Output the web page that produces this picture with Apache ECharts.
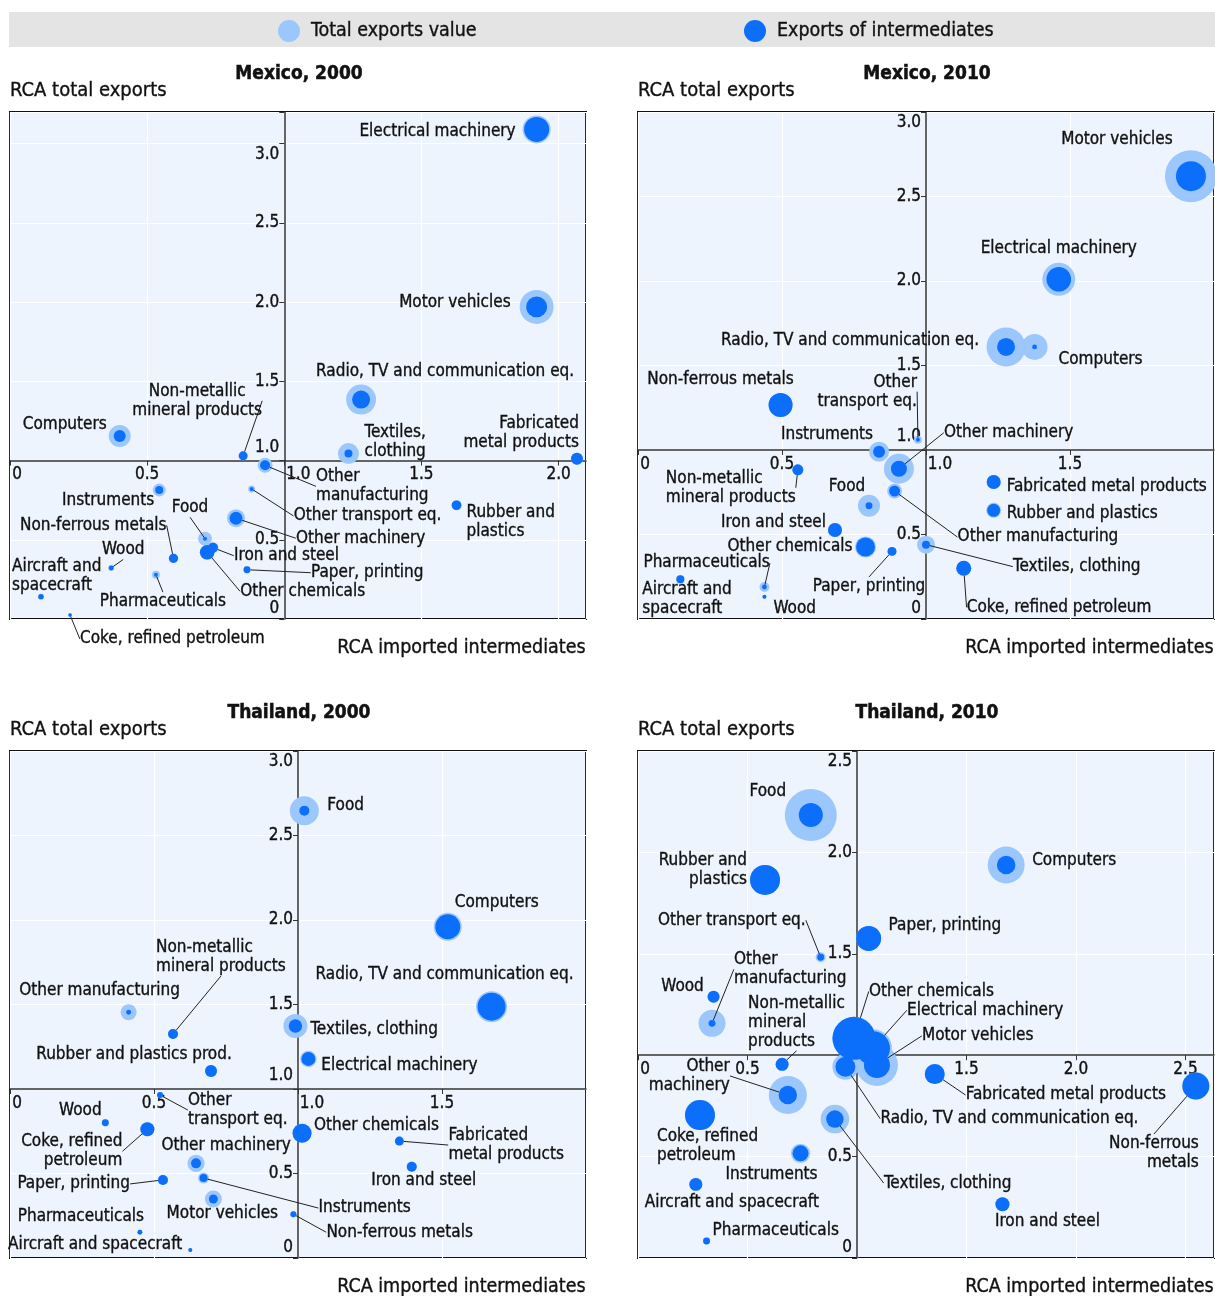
<!DOCTYPE html>
<html><head><meta charset="utf-8">
<script src="https://cdn.jsdelivr.net/npm/echarts@6/dist/echarts.min.js"></script>
<style>html,body{margin:0;padding:0;background:#fff}#c{width:1215px;height:1296px}</style>
</head><body><div id="c"></div>
<script>
// ---------------- DATA ----------------
// x = RCA imported intermediates, y = RCA total exports,
// total = total exports value (bubble area), inter = exports of intermediates (bubble area)
const mx00Names = ['Electrical machinery','Motor vehicles','Radio, TV and communication eq.','Computers','Non-metallic\nmineral products','Other\nmanufacturing','Textiles,\nclothing','Fabricated\nmetal products','Instruments','Other transport eq.','Rubber and\nplastics','Other machinery','Food','Iron and steel','Other chemicals','Non-ferrous metals','Wood','Paper, printing','Aircraft and\nspacecraft','Pharmaceuticals','Coke, refined petroleum'];
const mx00X = [1.92,1.92,1.28,0.40,0.85,0.93,1.234,2.067,0.544,0.881,1.628,0.824,0.711,0.74,0.719,0.596,0.369,0.864,0.113,0.532,0.219];
const mx00Y = [3.09,1.97,1.385,1.155,1.03,0.97,1.044,1.012,0.814,0.821,0.718,0.636,0.507,0.45,0.421,0.383,0.322,0.311,0.141,0.28,0.025];
const mx00Total = [196,289,225,121,20,56,110,36,42,12,25,81,49,30,56,21,9,12,9,16,4];
const mx00Inter = [156,110,81,36,20,25,16,36,16,4,23,42,4,25,53,21,6,12,7,4,3];

const mx10Names = ['Motor vehicles','Electrical machinery','Radio, TV and communication eq.','Computers','Non-ferrous metals','Other\ntransport eq.','Instruments','Other machinery','Non-metallic\nmineral products','Other manufacturing','Food','Fabricated metal products','Rubber and plastics','Iron and steel','Other chemicals','Paper, printing','Textiles, clothing','Coke, refined petroleum','Pharmaceuticals','Aircraft and\nspacecraft','Wood'];
const mx10X = [1.92,1.461,1.278,1.377,0.495,0.972,0.837,0.906,0.555,0.891,0.802,1.235,1.235,0.684,0.79,0.882,1.0,1.131,0.439,0.147,0.439];
const mx10Y = [2.62,2.01,1.61,1.61,1.266,1.061,0.99,0.889,0.883,0.757,0.67,0.811,0.643,0.527,0.426,0.40,0.44,0.30,0.189,0.235,0.132];
const mx10Total = [676,272,380,169,144,16,100,225,30,56,121,49,56,49,110,20,81,56,25,16,4];
const mx10Inter = [225,151,81,6,144,4,36,64,30,30,12,49,42,49,90,20,16,56,6,16,4];

const th00Names = ['Food','Computers','Radio, TV and communication eq.','Non-metallic\nmineral products','Other manufacturing','Textiles, clothing','Electrical machinery','Rubber and plastics prod.','Other\ntransport eq.','Wood','Coke, refined\npetroleum','Other chemicals','Fabricated\nmetal products','Iron and steel','Other machinery','Paper, printing','Instruments','Motor vehicles','Non-ferrous metals','Pharmaceuticals','Aircraft and spacecraft'];
const th00X = [1.022,1.52,1.672,0.566,0.412,0.991,1.036,0.698,0.521,0.331,0.477,1.014,1.352,1.395,0.646,0.531,0.672,0.706,0.984,0.451,0.626];
const th00Y = [2.647,1.96,1.487,1.325,1.454,1.373,1.178,1.107,0.964,0.80,0.762,0.738,0.692,0.54,0.56,0.462,0.473,0.349,0.259,0.152,0.047];
const th00Total = [210,196,240,25,64,144,67,36,9,12,49,90,20,25,74,25,30,72,9,6,4];
const th00Inter = [25,156,196,25,6,45,49,36,9,12,49,90,20,25,25,25,16,20,9,6,4];

const th10Names = ['Food','Computers','Rubber and\nplastics','Paper, printing','Other transport eq.','Wood','Other\nmanufacturing','Other chemicals','Electrical machinery','Motor vehicles','Radio, TV and communication eq.','Non-metallic\nmineral\nproducts','Other\nmachinery','Coke, refined\npetroleum','Textiles, clothing','Fabricated metal products','Non-ferrous\nmetals','Instruments','Iron and steel','Aircraft and spacecraft','Pharmaceuticals'];
const th10X = [0.789,1.681,0.58,1.053,0.834,0.345,0.338,0.986,1.073,1.091,0.947,0.658,0.684,0.283,0.899,1.355,2.547,0.742,1.664,0.264,0.313];
const th10Y = [2.184,1.938,1.864,1.576,1.483,1.288,1.157,1.083,1.034,0.952,0.943,0.955,0.804,0.705,0.685,0.907,0.848,0.516,0.265,0.363,0.084];
const th10Total = [676,342,225,156,25,36,182,462,361,441,169,42,361,225,204,100,182,92,49,42,12];
const th10Inter = [144,86,225,156,12,36,12,462,289,169,100,42,85,225,77,100,182,64,49,42,12];

const xTicks20 = [0,0.5,1,1.5,2];
const xTicks25 = [0,0.5,1,1.5,2,2.5];
const xTickLabels20 = ['0','0.5','1.0','1.5','2.0'];
const xTickLabelsTh10 = ['0','0.5','','1.5','2.0','2.5'];   // 1.0 hidden under bubbles in the original
const yTicks30 = [0,0.5,1,1.5,2,2.5,3];
const yTicks25 = [0,0.5,1,1.5,2,2.5];
const yTickLabels30 = ['0','0.5','1.0','1.5','2.0','2.5','3.0'];
const yTickLabelsTh10 = ['0','0.5','','1.5','2.0','2.5'];

const legendNames = ['Total exports value','Exports of intermediates'];
const panelTitles = ['Mexico, 2000','Mexico, 2010','Thailand, 2000','Thailand, 2010'];
const yAxisTitle = 'RCA total exports';
const xAxisTitle = 'RCA imported intermediates';

// ---------------- LAYOUT / STYLE ----------------
const FONT = "'Liberation Sans Narrow','Arial Narrow','DejaVu Sans Condensed',sans-serif";
const LIGHT = '#9cc7fd', DARK = '#0b6ffb', BG = '#edf4fd', INK = '#111';
// label placement: [dx, dy, align, leaderLine]
const mx00Lab = [[-21,2,'right',0],[-26,-4,'right',0],[84,-28,'center',0],[-13,-11,'right',0],[-46,-55,'center',1],[51,21,'left',1],[16,-12,'left',0],[2,-26,'right',0],[-5,11,'right',0],[42,27,'left',1],[10,17,'left',0],[60,20,'left',1],[-15,-31,'center',1],[21,8,'left',1],[33,39,'left',1],[-7,-33,'right',1],[12,-18,'center',1],[64,3,'left',1],[-29,-21,'left',0],[7,27,'center',1],[10,24,'left',1]];
const mx10Lab = [[-74,-37,'center',0],[0,-31,'center',0],[-27,-6,'right',0],[24,13,'left',0],[-60,-25,'center',0],[-1,-48,'right',1],[-6,-17,'right',0],[45,-36,'left',1],[-132,18,'left',1],[63,46,'left',1],[-22,-19,'center',0],[13,5,'left',0],[13,3,'left',0],[-9,-7,'right',0],[-13,0,'right',0],[-23,35,'center',1],[87,22,'left',1],[3,39,'left',1],[-121,-24,'left',1],[-38,20,'left',0],[9,12,'left',0]];
const th00Lab = [[23,-5,'left',0],[7,-24,'left',0],[-47,-32,'center',0],[-17,-77,'left',1],[-29,-22,'center',0],[15,4,'left',0],[13,7,'left',0],[-77,-16,'center',0],[28,15,'left',1],[-25,-12,'center',0],[-25,22,'right',1],[12,-8,'left',0],[49,4,'left',1],[12,14,'center',0],[30,-18,'center',0],[-33,4,'right',1],[115,30,'left',1],[9,15,'center',0],[33,18,'left',1],[-59,-16,'center',0],[-8,-5,'right',0]];
const th10Lab = [[-43,-24,'center',0],[26,-4,'left',0],[-18,-10,'right',0],[20,-13,'left',0],[-15,-37,'right',1],[-31,-10,'center',0],[22,-54,'left',1],[15,-47,'left',1],[34,-38,'left',1],[45,-29,'left',1],[35,52,'left',1],[-34,-42,'left',1],[-58,-19,'right',1],[-43,31,'left',0],[49,64,'left',1],[31,21,'left',1],[3,67,'right',1],[-29,21,'center',0],[45,17,'center',0],[36,18,'center',0],[6,-10,'left',0]];

const panels = [
  {names:mx00Names,x:mx00X,y:mx00Y,tot:mx00Total,inter:mx00Inter,lab:mx00Lab,xr:[0,2.1],yr:[0,3.2],xt:xTicks20,xl:xTickLabels20,yt:yTicks30,yl:yTickLabels30,left:10,top:112},
  {names:mx10Names,x:mx10X,y:mx10Y,tot:mx10Total,inter:mx10Inter,lab:mx10Lab,xr:[0,2.0],yr:[0,3.0],xt:xTicks20,xl:xTickLabels20,yt:yTicks30,yl:yTickLabels30,left:638,top:112},
  {names:th00Names,x:th00X,y:th00Y,tot:th00Total,inter:th00Inter,lab:th00Lab,xr:[0,2.0],yr:[0,3.0],xt:xTicks20,xl:xTickLabels20,yt:yTicks30,yl:yTickLabels30,left:10,top:751},
  {names:th10Names,x:th10X,y:th10Y,tot:th10Total,inter:th10Inter,lab:th10Lab,xr:[0,2.63],yr:[0,2.5],xt:xTicks25,xl:xTickLabelsTh10,yt:yTicks25,yl:yTickLabelsTh10,left:638,top:751}
];
const GW = 576, GH = 507;

function fmt(ticks, labels, kind, max) {
  return function (v) {
    const i = ticks.findIndex(t => Math.abs(t - v) < 1e-6);
    if (i < 0 || !labels[i]) return '';
    const s = labels[i];
    if (Math.abs(v) < 1e-6) return '{z|' + s + '}';
    if (Math.abs(v - 1) < 1e-6) return '{o|' + s + '}';
    if (kind === 'y' && Math.abs(v - max) < 1e-6) return '{m|' + s + '}';
    return s;
  };
}
const tickFont = {fontFamily: FONT, fontSize: 17, color: INK, textBorderColor: INK, textBorderWidth: 0.35};

const grid = [], xAxis = [], yAxis = [], series = [], title = [];
panels.forEach((p, i) => {
  grid.push({left: p.left, top: p.top, width: GW, height: GH, show: true, backgroundColor: BG, borderColor: INK, borderWidth: 2});
  const xOff = -GH * (1 - p.yr[0]) / (p.yr[1] - p.yr[0]);
  const yOff = -GW * (1 - p.xr[0]) / (p.xr[1] - p.xr[0]);
  xAxis.push({gridIndex: i, type: 'value', min: p.xr[0], max: p.xr[1], interval: 0.5, position: 'bottom', offset: xOff,
    axisLine: {onZero: false, lineStyle: {color: '#333', width: 1.5}},
    axisTick: {show: true, length: 5, lineStyle: {color: '#333'}},
    splitLine: {show: true, lineStyle: {color: '#fff', width: 1.2}},
    axisLabel: Object.assign({margin: 6, formatter: fmt(p.xt, p.xl, 'x', p.xr[1]), showMaxLabel: false,
      rich: {z: Object.assign({padding: [0,0,0,14]}, tickFont), o: Object.assign({padding: [0,0,0,28]}, tickFont)}}, tickFont)
  });
  yAxis.push({gridIndex: i, type: 'value', min: p.yr[0], max: p.yr[1], interval: 0.5, position: 'left', offset: yOff,
    axisLine: {onZero: false, lineStyle: {color: '#333', width: 1.5}},
    axisTick: {show: true, length: 5, lineStyle: {color: '#333'}},
    splitLine: {show: true, lineStyle: {color: '#fff', width: 1.2}},
    axisLabel: Object.assign({margin: 5, formatter: fmt(p.yt, p.yl, 'y', p.yt[p.yt.length-1]),
      rich: {z: Object.assign({padding: [0,0,20,0]}, tickFont), o: Object.assign({padding: [0,0,26,0]}, tickFont), m: Object.assign({padding: [22,0,0,0]}, tickFont)}}, tickFont)
  });
  const sz = v => 2 * Math.sqrt(v[2]);
  series.push({type: 'scatter', name: legendNames[0], xAxisIndex: i, yAxisIndex: i, z: 2, silent: true,
    data: p.names.map((n, k) => [p.x[k], p.y[k], p.tot[k]]), symbolSize: sz,
    itemStyle: {color: LIGHT, opacity: 1}, emphasis: {disabled: true}});
  series.push({type: 'scatter', name: legendNames[1], xAxisIndex: i, yAxisIndex: i, z: 3, silent: true,
    data: p.names.map((n, k) => ({name: n, value: [p.x[k], p.y[k], p.inter[k]], labelLine: {show: !!p.lab[k][3]}})),
    symbolSize: sz, itemStyle: {color: DARK, opacity: 1}, emphasis: {disabled: true},
    label: {show: true, formatter: '{b}', fontFamily: FONT, fontSize: 17, color: INK, lineHeight: 19, textBorderColor: INK, textBorderWidth: 0.35},
    labelLine: {show: false, lineStyle: {color: '#222', width: 1}},
    labelLayout: function (prm) {
      const L = p.lab[prm.dataIndex];
      const cx = prm.rect.x + prm.rect.width / 2, cy = prm.rect.y + prm.rect.height / 2;
      return {x: cx + L[0], y: cy + L[1], align: L[2], verticalAlign: 'middle'};
    }
  });
  title.push({text: panelTitles[i], left: p.left + 289, top: p.top - 47, textAlign: 'center', padding: 0,
    textStyle: {fontFamily: FONT, fontSize: 19, fontWeight: 'bold', color: INK, textBorderColor: INK, textBorderWidth: 0.5}});
  title.push({text: yAxisTitle, left: p.left, top: p.top - 31, padding: 0,
    textStyle: {fontFamily: FONT, fontSize: 20, fontWeight: 'normal', color: INK, textBorderColor: INK, textBorderWidth: 0.35}});
  title.push({text: xAxisTitle, right: 1215 - (p.left + GW), top: p.top + GH + 19, padding: 0,
    textStyle: {fontFamily: FONT, fontSize: 19.5, fontWeight: 'normal', color: INK, textBorderColor: INK, textBorderWidth: 0.35}});
});

const legendBase = {top: 20, icon: 'circle', itemWidth: 22, itemHeight: 22, selectedMode: false, padding: 0,
  textStyle: {fontFamily: FONT, fontSize: 19.5, color: INK, textBorderColor: INK, textBorderWidth: 0.35, padding: [0,0,0,6]}};

const chart = echarts.init(document.getElementById('c'), null, {renderer: 'canvas'});
chart.setOption({
  animation: false,
  backgroundColor: '#fff',
  graphic: [{type: 'rect', shape: {x: 9, y: 12, width: 1206, height: 35}, style: {fill: '#e4e4e4'}, z: 0, silent: true}],
  legend: [Object.assign({data: [legendNames[0]], left: 278}, legendBase), Object.assign({data: [legendNames[1]], left: 744}, legendBase)],
  title: title,
  grid: grid,
  xAxis: xAxis,
  yAxis: yAxis,
  series: series
});
</script>
</body></html>
